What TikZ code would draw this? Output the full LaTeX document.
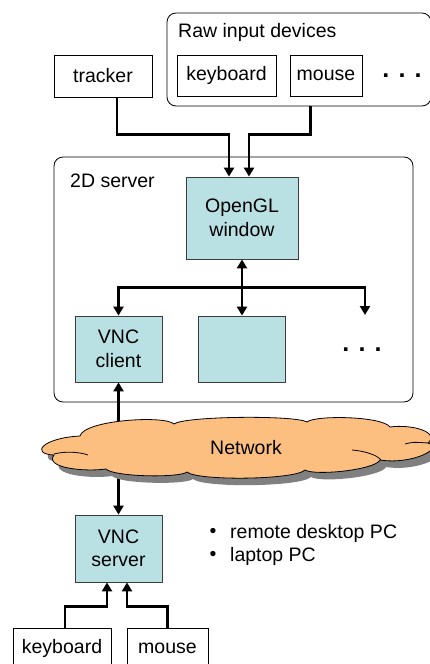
\documentclass[tikz,border=0pt]{standalone}
\usepackage{fontspec}
\setmainfont{Liberation Sans}
\usetikzlibrary{arrows.meta,calc}
\definecolor{boxteal}{RGB}{185,224,227}
\definecolor{cloudor}{RGB}{253,191,127}
\definecolor{shadowgray}{RGB}{128,128,128}
\definecolor{edgegray}{RGB}{60,60,60}
\begin{document}
\begin{tikzpicture}[x=1pt,y=-1pt,
  every node/.style={font=\fontsize{19.5}{23.5}\selectfont, inner sep=0pt},
  wbox/.style={draw=black, line width=0.8pt, fill=white, minimum height=41pt},
  tbox/.style={draw=edgegray, line width=0.8pt, fill=boxteal, align=center},
  group/.style={draw=black, line width=0.8pt, rounded corners=9pt},
  conn/.style={line width=2.6pt, draw=black},
  dotstyle/.style={font=\fontsize{25}{25}\bfseries},
  tip/.tip={Triangle[width=10pt,length=9pt]}
]
\useasboundingbox (0,0) rectangle (430,664);
\clip (0,0) rectangle (430,664);

% group frames
\node[group, minimum width=264pt, minimum height=93pt] (raw) at (299,59.5) {};
\node[anchor=west] (rawlbl) at (178,32) {Raw input devices};
\node[group, minimum width=359pt, minimum height=245pt] (srv) at (233.5,279.5) {};
\node[anchor=west] (srvlbl) at (70,181) {2D server};

% top devices
\node[wbox, minimum width=98pt, minimum height=42pt] (tracker) at (103,76) {tracker};
\node[wbox, minimum width=99pt] (kb1) at (226.5,75.5) {keyboard};
\node[wbox, minimum width=72pt] (ms1) at (326,75.5) {mouse};
\node[dotstyle] (dots1) at (402,76) {. . .};

% server internals
\node[tbox, minimum width=112pt, minimum height=82pt] (opengl) at (242,218) {OpenGL\\window};
\node[tbox, minimum width=87pt, minimum height=66pt] (vncc) at (118.5,349) {VNC\\client};
\node[tbox, minimum width=87pt, minimum height=66pt] (blank) at (242,349) {};
\node[dotstyle] (dots2) at (362,350) {. . .};
\coordinate (dotend) at (365,315);

% VNC server side
\node[tbox, minimum width=87pt, minimum height=67pt] (vncs) at (118.5,548.5) {VNC\\server};
\node (b1) at (213,533) {•};
\node[anchor=west] (t1) at (230,533) {remote desktop PC};
\node (b2) at (213,556) {•};
\node[anchor=west] (t2) at (230,556) {laptop PC};
\node[wbox, minimum width=98pt, minimum height=40pt] (kb2) at (62,648) {keyboard};
\node[wbox, minimum width=81pt, minimum height=40pt] (ms2) at (167.5,648) {mouse};

% connectors
\draw[conn,-tip] ([xshift=14pt]tracker.south) |- ([xshift=-13pt,yshift=42pt]opengl.north) -- ([xshift=-13pt]opengl.north);
\draw[conn,-tip] ($(raw.south west)+(144,0)$) |- ([xshift=7pt,yshift=42pt]opengl.north) -- ([xshift=7pt]opengl.north);
\draw[conn,tip-tip] (opengl.south) -- (blank.north);
\coordinate (bar) at ($(opengl.south)!0.5!(blank.north)$);
\draw[conn,-tip] (bar) -| (vncc.north);
\draw[conn,-tip] (bar) -| (dotend);
\draw[conn,tip-tip] (vncs.north) -- (vncc.south);
\draw[conn,-tip] ([xshift=3pt]kb2.north) |- ([xshift=-11.5pt,yshift=-24pt]vncs.south) -- ([xshift=-11.5pt]vncs.south);
\draw[conn,-tip] (ms2.north) |- ([xshift=8.5pt,yshift=-24pt]vncs.south) -- ([xshift=8.5pt]vncs.south);

% cloud
\def\cloudpath{(80,436) .. controls (84,420) and (165,415) .. (174,424)
  .. controls (185,416) and (295,415) .. (307,422)
  .. controls (315,415) and (382,416) .. (390,427)
  .. controls (412,424) and (440,432) .. (428,443)
  .. controls (445,448) and (412,465) .. (380,460)
  .. controls (375,470) and (315,476) .. (305,470)
  .. controls (295,480) and (197,481) .. (187,472)
  .. controls (180,478) and (114,477) .. (106,469)
  .. controls (85,472) and (44,468) .. (54,455)
  .. controls (30,454) and (42,438) .. (80,436) -- cycle}
\begin{scope}[shift={(6,7)}]
\fill[shadowgray] \cloudpath;
\end{scope}
\filldraw[fill=cloudor, draw=black, line width=0.8pt] \cloudpath;
\draw[line width=0.8pt] (54,454) .. controls (65,451) and (80,452) .. (88,455);
\draw[line width=0.8pt] (405,444) .. controls (413,442) .. (428,443);
\draw[line width=0.8pt] (352,450) .. controls (365,451) and (377,455) .. (381,460);
\node (net) at (246,448) {Network};
\end{tikzpicture}
\end{document}
